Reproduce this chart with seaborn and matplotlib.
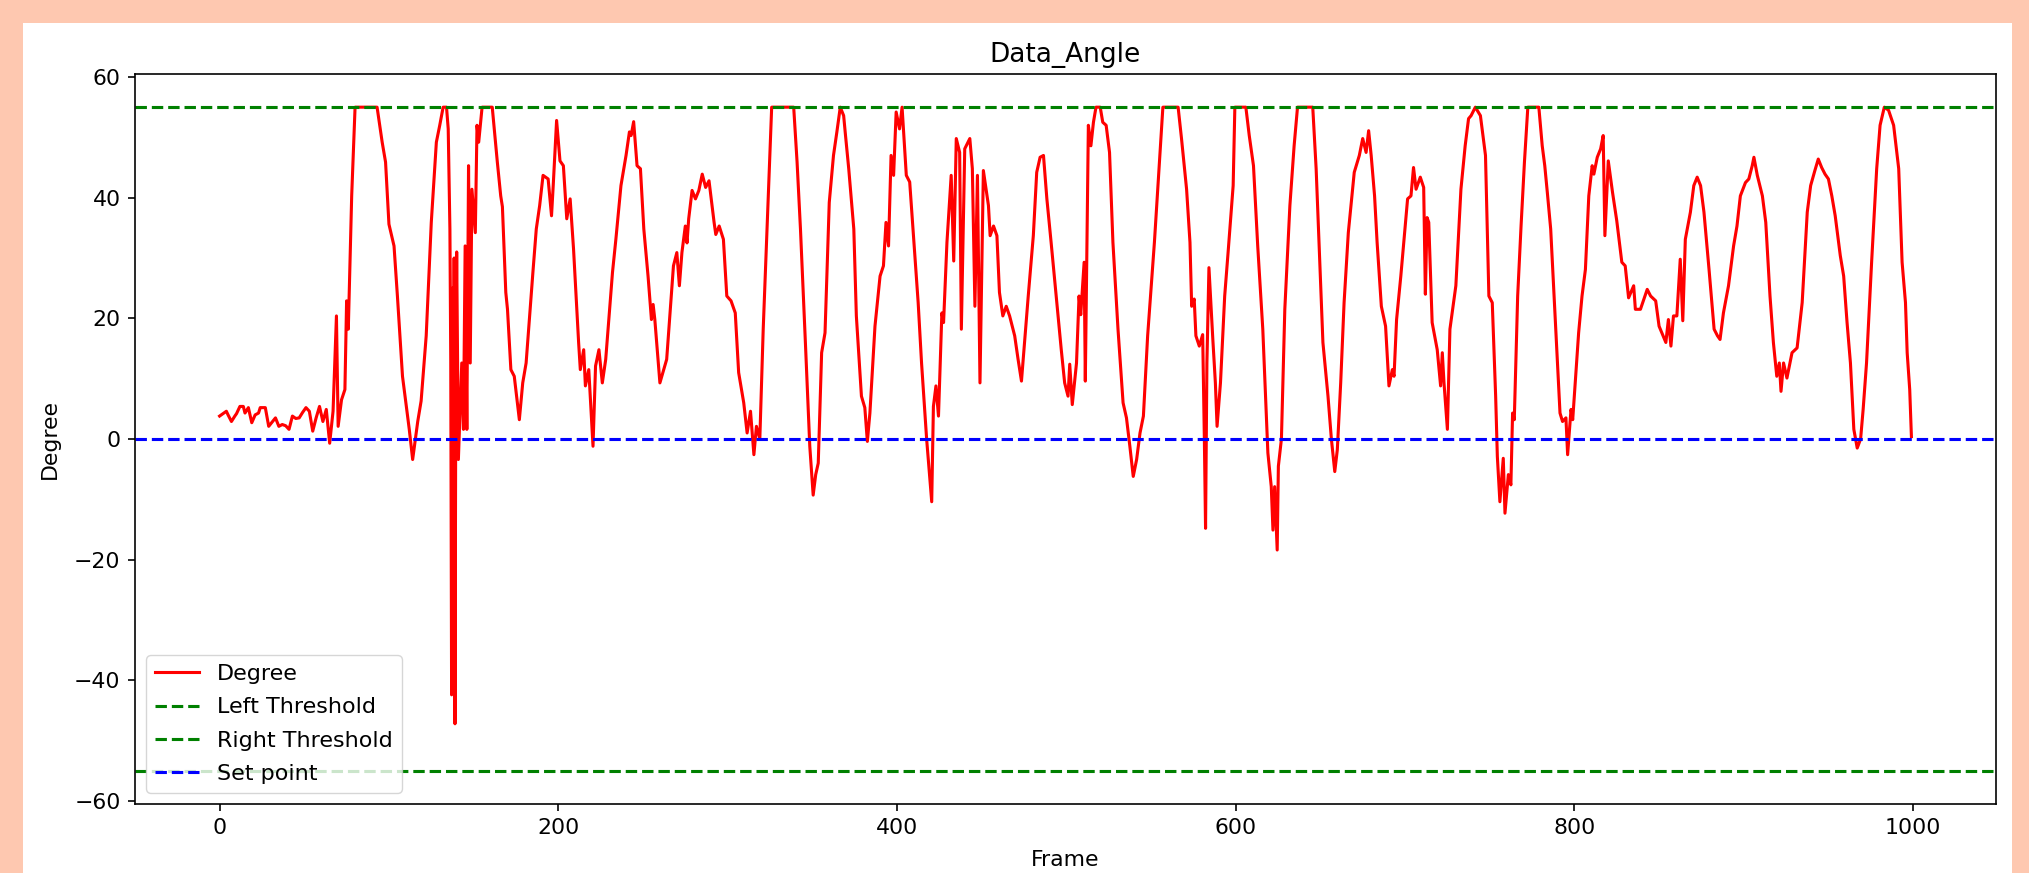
import matplotlib
matplotlib.use("Agg")
import matplotlib.pyplot as plt
import matplotlib.patches as mpatches
import seaborn as sns

# Angle readings (frame, degree)
frames = [0, 2, 4, 5, 7, 9, 10, 12, 14, 15, 17, 19, 21, 23, 24, 27, 28, 29, 31, 33,
          35, 37, 39, 41, 43, 45, 47, 49, 51, 53, 55, 57, 59, 61, 63, 65, 67, 69, 70, 72,
          74, 75, 76, 78, 80, 93, 96, 98, 100, 103, 105, 108, 112, 114, 117, 119, 122, 125, 128, 130,
          132, 134, 135, 136, 136.5, 137, 137.5, 138, 138.5, 139, 139.5, 140, 141, 143, 144, 145, 146, 147, 148, 149,
          151, 152, 153, 155, 161, 164, 166, 167, 169, 170, 172, 174, 177, 179, 181, 185, 187, 189, 191, 194,
          196, 197, 199, 201, 203, 205, 207, 209, 212, 213, 215, 216, 218, 220.5, 222, 224, 226, 228, 232, 234,
          237, 240, 242, 243, 244.5, 246.5, 248.5, 250.5, 253, 255, 256, 257, 260, 264, 268, 270, 271.5, 273, 275, 276,
          277, 279, 281, 283, 285, 287, 289, 292, 293, 295, 297.5, 299.5, 302, 304.5, 306.5, 309.5, 311.5, 313.5, 315.5, 317,
          319, 321, 324, 326, 339, 341, 343, 346, 348.5, 350.5, 352, 353.5, 355.5, 357.5, 360, 362.5, 364.5, 366.5, 368.5, 369.5,
          371.5, 374.5, 376, 379, 381, 382.5, 384, 387, 390, 392, 393.5, 395, 396.5, 398, 399.5, 401.5, 403, 405.5, 407.5, 412.5,
          414.5, 417.5, 420.5, 421.5, 423, 424.5, 426.5, 427.5, 429.5, 432, 433.5, 435, 437, 438, 440, 443, 444.5, 446, 447.5, 449,
          451, 454, 455, 457, 459, 460.5, 462.5, 464.5, 466.5, 469.5, 471.5, 473.5, 477.5, 480.5, 482.5, 484.5, 486.5, 488.5, 491, 494,
          497, 499, 501, 502, 503.5, 506, 507.5, 508.5, 510.5, 511.2, 513, 514.5, 516, 517.5, 520, 521.5, 523.5, 525.5, 527.5, 530.5,
          533.5, 535.5, 537.5, 539.5, 541.5, 543.5, 545.5, 548, 552, 555, 557, 566, 568, 571, 573, 574, 575.5, 576.5, 578.5, 580.5,
          581.5, 582.2, 583, 584.2, 586.5, 588, 589, 591, 593.5, 595.5, 598.5, 599.5, 606, 608, 610.5, 613, 616, 619, 621, 622,
          623, 624.5, 625.2, 627, 629, 632, 634.5, 636.5, 645.5, 647.5, 649.5, 651.5, 654.5, 656.5, 658.5, 660, 662, 664, 666.5, 670,
          673, 675, 677, 678.5, 680, 682, 683.5, 686, 688.5, 690.5, 692.5, 693.5, 695, 697.5, 701.5, 703.5, 705, 706.5, 709, 711,
          712, 713, 714, 716, 719, 721, 722, 723, 725, 726.5, 730, 733, 735.5, 737.5, 739, 741.5, 744.5, 747.5, 749.5, 751.5,
          753.5, 754.5, 756, 758, 759, 761, 762.5, 763.5, 764.5, 766.5, 768.5, 770.5, 772.5, 779, 781, 782.5, 784, 786, 789, 791.5,
          793, 795, 796, 798, 799, 800.5, 802.5, 804.5, 806.5, 808.5, 810.5, 811.5, 813.5, 815.5, 817, 818, 820, 822.5, 825, 828,
          830, 832, 835, 836, 839, 843, 845, 848, 850, 854, 855.5, 857, 858.5, 860.5, 862.5, 864, 865.5, 868.5, 870.5, 872.5,
          874.5, 876.5, 879.5, 882.5, 884.5, 886, 888, 891, 894, 896, 898, 901, 903, 905, 906, 908, 911, 913, 915.5, 917.5,
          919.5, 921, 922, 923.5, 925.5, 928.5, 931.5, 934.5, 937.5, 939.5, 942, 944, 946, 948, 950, 952, 954, 956, 957, 959,
          961, 963, 965, 967, 969, 970.5, 972.5, 975.5, 978.5, 980.5, 983, 985.5, 988.5, 991.5, 993.5, 995.5, 996.5, 998, 999]

degrees = [3.8, 4.2, 4.6, 4.0, 2.9, 3.8, 4.2, 5.4, 5.4, 4.3, 5.2, 2.7, 4.0, 4.3, 5.2, 5.2, 3.6, 2.1, 2.8, 3.5,
           2.1, 2.4, 2.2, 1.6, 3.8, 3.4, 3.5, 4.4, 5.2, 4.6, 1.3, 3.5, 5.4, 2.9, 4.9, -0.7, 4.6, 20.4, 2.1, 6.5,
           8.2, 22.9, 18.2, 40.3, 55, 55, 49.2, 45.9, 35.6, 32, 23.7, 10.4, 1.6, -3.4, 2.9, 6.3, 17.1, 35.9, 49.2, 52,
           55, 55, 51.4, 34.8, 13, -42.4, 25, -42, 30, -47.2, 12, 31, -3.4, 12.6, 1.6, 32, 1.6, 45.3, 12.6, 41.4,
           34.2, 52, 49.2, 55, 55, 45.9, 40.3, 38.5, 24.3, 21.5, 11.5, 10.4, 3.2, 9.3, 12.6, 27.6, 34.8, 38.7, 43.7, 43.1,
           37, 42, 52.8, 46.1, 45.3, 36.5, 39.8, 31.5, 16, 11.5, 14.8, 8.8, 11.5, -1.2, 12.1, 14.8, 9.3, 13.2, 27.6, 33.1,
           42, 47, 50.9, 50.3, 52.6, 45.3, 44.8, 34.8, 27, 19.8, 22.3, 19.8, 9.3, 13.2, 28.7, 30.9, 25.4, 30.9, 35.3, 32.5,
           36.5, 41.2, 39.8, 41.2, 43.9, 41.7, 42.8, 35.9, 33.9, 35.3, 33.1, 23.7, 22.9, 20.9, 11, 6, 1, 4.6, -2.6, 2.1,
           0, 18.2, 40.3, 55, 55, 45.9, 34.8, 15.4, -1.2, -9.3, -5.9, -4, 14.3, 17.6, 39.2, 47, 50.9, 55, 53.6, 50.6,
           44.8, 34.8, 20.4, 7.1, 5.2, -0.4, 4.3, 18.7, 27, 28.7, 35.9, 32, 47, 43.7, 54.2, 51.4, 55, 43.7, 42.6, 22.6,
           12.6, 0, -10.4, 5.4, 8.8, 3.8, 20.9, 19.3, 32.6, 43.7, 29.5, 49.8, 47.5, 18.2, 48.1, 49.8, 44.8, 22, 43.7, 9.3,
           44.5, 38.7, 33.7, 35.3, 33.7, 24.3, 20.4, 22, 20.4, 17.1, 13.2, 9.6, 23.7, 33.7, 44.2, 46.7, 47, 39.8, 32.6, 23.7,
           14.8, 9.3, 7.1, 12.4, 5.7, 12.6, 23.7, 20.6, 29.3, 9.6, 52, 48.6, 52.5, 55, 55, 52.5, 52, 47.5, 32.6, 18.2,
           6, 3.5, -1.2, -6.2, -3.4, 1, 3.8, 17.1, 32.6, 45.9, 55, 55, 49.8, 41.4, 32.6, 22, 23.2, 17.1, 15.4, 17.3,
           -0.1, -14.8, 12.6, 28.4, 16.5, 9.3, 2.1, 9.3, 23.7, 30.9, 42, 55, 55, 50.3, 45.3, 32, 18.2, -2.3, -7.9, -15.1,
           -7.9, -18.4, -4.5, 0, 21.5, 38.7, 48.6, 55, 55, 44.8, 30.4, 16, 7.1, 0, -5.4, -1.8, 9.3, 22.6, 34.2, 44.2,
           47, 49.8, 47.5, 51.1, 47, 40.3, 32.6, 22, 18.7, 8.8, 11.5, 10.4, 19.8, 27, 39.8, 40.3, 45, 41.4, 43.4, 41.7,
           24, 36.7, 35.9, 19.3, 14.8, 8.8, 14.3, 9.3, 1.6, 18.2, 25.4, 41.4, 48.6, 53.1, 53.6, 55, 53.6, 47, 23.7, 22.6,
           7.1, -2.9, -10.4, -3.2, -12.3, -5.9, -7.6, 4.3, 3.2, 23.7, 35.3, 45.9, 55, 55, 48.6, 45.3, 40.9, 34.8, 18.2, 4.3,
           2.9, 3.5, -2.6, 4.9, 3.2, 9.3, 17.6, 23.7, 28.1, 40.3, 45.3, 43.9, 46.7, 48.1, 50.3, 33.7, 46.1, 40.9, 36.2, 29.3,
           28.7, 23.4, 25.4, 21.5, 21.5, 24.8, 23.7, 22.9, 18.7, 16, 19.8, 15.4, 20.4, 20.4, 29.8, 19.6, 33.1, 37.6, 42, 43.4,
           42, 37.6, 28.1, 18.2, 17.1, 16.5, 20.9, 25.4, 32, 35.3, 40.3, 42.5, 43.1, 45.3, 46.7, 43.7, 40.3, 35.9, 23.7, 16,
           10.4, 12.6, 7.9, 12.6, 10.1, 14.3, 15.1, 22.6, 37.6, 42, 44.5, 46.4, 45, 43.9, 43.1, 40.3, 37, 32.6, 30.4, 27,
           19.3, 12.6, 1.6, -1.5, 0, 4.9, 12.6, 29.3, 44.8, 52, 55, 54.5, 52, 44.8, 29.3, 22.6, 14.3, 8.2, 0.4]

left_threshold = 55
right_threshold = -55
set_point = 0

s = 1.48  # screenshot scale for lines
fs = 15.8  # text looks a little larger than the line scale suggests
plt.rcParams['font.family'] = ['DejaVu Sans']
plt.rcParams['font.size'] = fs
plt.rcParams['axes.linewidth'] = 0.8 * s
plt.rcParams['xtick.major.width'] = 0.8 * s
plt.rcParams['ytick.major.width'] = 0.8 * s
plt.rcParams['xtick.major.size'] = 3.5 * s
plt.rcParams['ytick.major.size'] = 3.5 * s
plt.rcParams['xtick.major.pad'] = 3.5 * s
plt.rcParams['ytick.major.pad'] = 3.5 * s
plt.rcParams['lines.linewidth'] = 1.5 * s
plt.rcParams['legend.fontsize'] = 16

W, H = 2029, 873
fig = plt.figure(figsize=(W / 100, H / 100), dpi=100, facecolor='#FEC8B0')
# white canvas of the screenshot, drawn behind the axes
fig.patches.append(mpatches.Rectangle((23 / W, 0), (2012 - 23) / W, 1 - 23 / H,
                                      transform=fig.transFigure, facecolor='white',
                                      edgecolor='none', zorder=-10))
ax = fig.add_axes([135 / W, 1 - 804 / H, (1996 - 135) / W, (804 - 74) / H])
ax.set_zorder(1)

sns.lineplot(x=frames, y=degrees, color='red', label='Degree', ax=ax,
             estimator=None, sort=False, linewidth=1.5 * s)
ax.axhline(left_threshold, color='green', linestyle='--', label='Left Threshold', linewidth=1.5 * s)
ax.axhline(right_threshold, color='green', linestyle='--', label='Right Threshold', linewidth=1.5 * s)
ax.axhline(set_point, color='blue', linestyle='--', label='Set point', linewidth=1.5 * s)

ax.set_xlim(-49.95, 1048.95)
ax.set_ylim(-60.5, 60.5)
ax.set_xticks([0, 200, 400, 600, 800, 1000])
ax.set_yticks([-60, -40, -20, 0, 20, 40, 60])
ax.set_title('Data_Angle', fontsize=19, pad=6 * s)
ax.set_xlabel('Frame', labelpad=8)
ax.set_ylabel('Degree', labelpad=10)
ax.legend(loc='lower left', labelspacing=0.6)

fig.savefig('out.png', dpi=100, facecolor=fig.get_facecolor())
